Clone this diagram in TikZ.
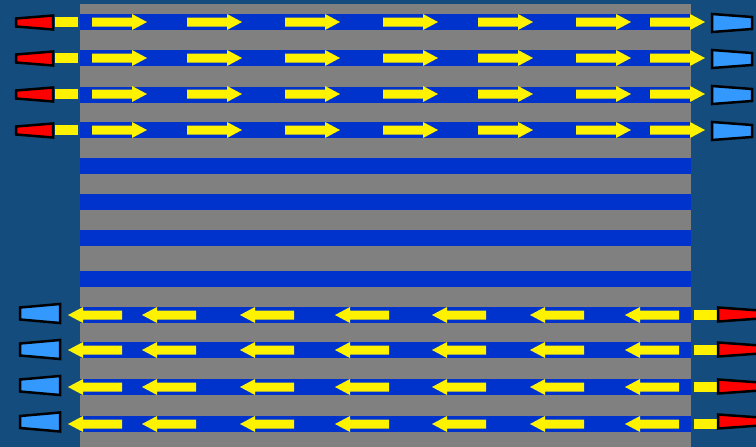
\documentclass[tikz,border=0pt]{standalone}
\usetikzlibrary{calc}
\definecolor{bgblue}{RGB}{20,76,126}
\definecolor{roadgray}{RGB}{128,128,128}
\definecolor{laneblue}{RGB}{0,51,204}
\definecolor{lightblue}{RGB}{51,153,255}
\tikzset{
  lanefill/.style={fill=laneblue},
  arrowfill/.style={fill=yellow},
  stub/.style={fill=yellow},
  redsig/.style={fill=red,draw=black,line width=2.5pt,line join=miter},
  bluesig/.style={fill=lightblue,draw=black,line width=2.5pt,line join=miter},
  pics/rarrow/.style={code={\fill[arrowfill] (0,-4.5)--(40,-4.5)--(40,-8)--(55,0)--(40,8)--(40,4.5)--(0,4.5)--cycle;}},
  pics/larrow/.style={code={\fill[arrowfill] (0,0)--(15,-8)--(15,-4.5)--(54,-4.5)--(54,4.5)--(15,4.5)--(15,8)--cycle;}}
}
\begin{document}
\begin{tikzpicture}[x=1pt,y=-1pt]
\fill[bgblue] (0,0) rectangle (756,447);
\useasboundingbox (0,0) rectangle (756,447);
% road
\fill[roadgray] (80,4) rectangle (691,447);
\foreach \t in {14,50,87,122,158,194,230,271,307,342,379,416}
  \fill[lanefill] (80,\t) rectangle (691,\t+16);
% top lanes: right arrows
\foreach \c/\rc/\bc in {22/22.5/23,58/58.5/59,94/94.5/95,130/130.5/131}{
  \foreach \x in {92,187,285,383,478,576,650}
    \pic at (\x,\c) {rarrow};
  \fill[stub] (55,\c-5) rectangle (78,\c+5);
  \draw[redsig] (16,\rc-4)--(53,\rc-7)--(53,\rc+7)--(16,\rc+4)--cycle;
  \draw[bluesig] (712,\bc-9)--(752,\bc-6)--(752,\bc+6)--(712,\bc+9)--cycle;
}
% bottom lanes: left arrows
\foreach \c/\bc/\rc in {315/313.5/314.5,350/349.5/349.5,387/385.5/386.5,424/422/421.5}{
  \foreach \x in {68,142,240,335,432,530,625}
    \pic at (\x,\c) {larrow};
  \fill[stub] (694,\c-5) rectangle (717,\c+5);
  \draw[bluesig] (20,\bc-6)--(60,\bc-9.5)--(60,\bc+9.5)--(20,\bc+6)--cycle;
  \draw[redsig] (718,\rc-7)--(760,\rc-4)--(760,\rc+4)--(718,\rc+7)--cycle;
}
\end{tikzpicture}
\end{document}
